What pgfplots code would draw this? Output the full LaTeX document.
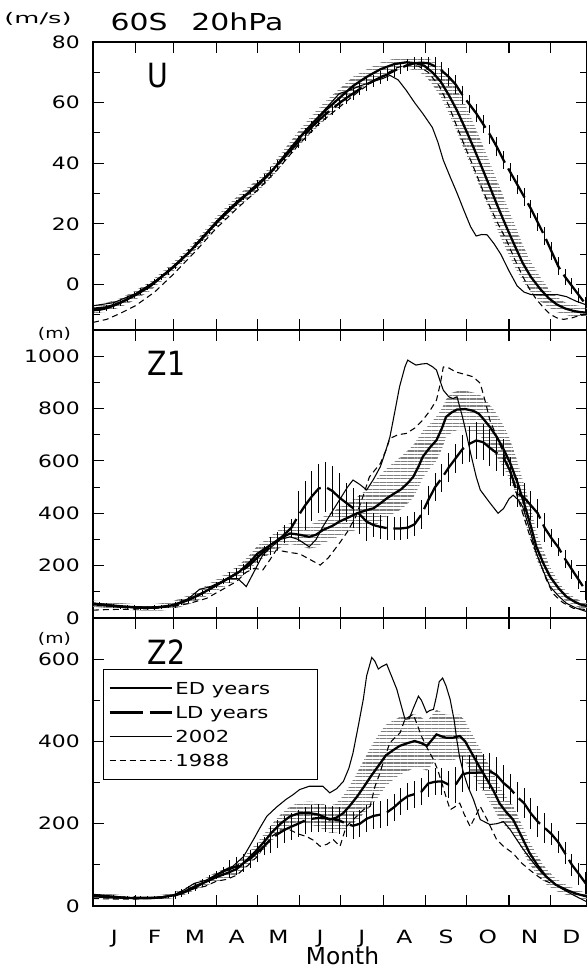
\documentclass[border=0pt]{standalone}
\usepackage{pgfplots}
\pgfplotsset{compat=1.18}
\usepackage{pgfplotstable}
\usepgfplotslibrary{fillbetween}
\usetikzlibrary{patterns.meta}
\usepackage{graphicx}
\usepackage{fontspec}
\setmainfont{DejaVu Sans}[FakeStretch=1.28]
\newfontfamily\plainfont{DejaVu Sans}

\newcommand\tickfont{\fontsize{12.8pt}{14pt}\selectfont}
\newcommand\legfont{\fontsize{12.4pt}{14pt}\selectfont}
\newcommand\unitfont{\fontsize{11pt}{13pt}\selectfont}
\newcommand\titlefont{\fontsize{17.5pt}{20pt}\selectfont}
\newcommand\monfont{\fontsize{13.7pt}{16pt}\selectfont}
\newcommand\panelfont{\plainfont\fontsize{25pt}{28pt}\selectfont}
\newcommand\xlabfont{\plainfont\fontsize{17.5pt}{20pt}\selectfont}

% ---------------- U panel ----------------
\pgfplotstableread{
d v lo hi
0 -8.0 -9.5 -6.5
10 -7.5 -9.0 -6.0
20 -6.0 -7.5 -4.5
31 -3.5 -5.0 -2.0
42 -0.5 -2.0 1.0
50 2.5 1.0 4.0
59 6.0 4.5 7.5
70 10.5 9.0 12.0
80 15.5 14.0 17.0
90 20.5 18.7 22.3
100 25.0 23.2 26.8
110 29.0 27.0 31.0
120 32.5 30.5 34.5
130 37.0 35.0 39.0
140 42.5 40.3 44.7
150 48.0 45.5 50.5
160 53.0 50.2 55.8
170 57.5 54.5 60.5
180 61.5 58.5 64.5
190 65.5 62.5 68.5
200 68.5 66.0 71.0
210 71.0 68.8 73.2
220 72.7 70.7 74.5
229 73.3 71.3 75.0
236 73.0 70.5 75.0
242 72.2 69.2 74.8
248 70.0 66.0 74.0
254 67.0 62.0 72.0
260 62.5 56.5 68.5
266 57.4 50.4 64.4
272 51.5 43.5 59.5
278 45.3 37.3 53.3
284 38.8 30.8 46.8
290 32.2 24.2 40.2
296 25.5 17.5 33.5
302 19.1 11.6 26.6
308 13.0 6.0 20.0
314 7.1 1.1 13.1
320 2.5 -2.5 7.5
327 -1.6 -5.6 2.4
333 -4.5 -7.5 -1.5
339 -6.6 -9.1 -4.1
345 -7.9 -9.9 -5.9
351 -8.7 -10.7 -6.7
356 -9.1 -11.1 -7.1
361 -9.3 -11.3 -7.3
}\EDU

\pgfplotstableread{
d v e
0 -8.5 1
5 -8.3 1
10 -7.8 1
15 -7.0 1
20 -6.0 1
25 -4.8 1
30 -3.6 1
35 -2.3 1
40 -0.9 1
45 0.8 1
50 2.5 1
55 4.3 1
60 6.2 1
65 8.4 1
70 10.6 1
75 13.0 1
80 15.3 1
85 17.8 1
90 20.3 1
95 22.7 1
100 25.0 1
105 27.0 1
110 29.0 1
115 31.0 1
120 33.0 1.5
125 35.0 1.5
130 37.2 1.5
135 39.5 1.5
140 42.0 1.5
145 44.5 1.5
150 47.0 2
155 49.5 2
160 52.0 2
165 54.2 2
170 56.2 2
175 58.0 2
180 59.8 2
185 61.5 2
190 63.0 2
195 64.5 2
200 66.0 2
205 67.2 2
210 68.3 2
215 69.3 2
220 70.5 2
225 71.5 2
230 72.4 2
235 73.0 2
240 73.2 2
245 73.0 2
250 72.0 3
255 70.5 3
260 68.5 3
265 66.0 3
270 62.5 3
275 59.5 3
280 56.5 3
285 53.0 3
290 49.5 3
295 45.5 3
300 41.0 3
305 37.0 3
310 33.0 3
315 29.0 3
320 25.0 3
325 20.5 3
330 16.0 3
335 11.0 3
340 6.0 3
345 2.5 2.5
350 -0.5 2.5
355 -3.5 2.5
360 -6.5 2.5
}\LDU

\pgfplotstableread{
d v
0 -7.0
15 -6.0
31 -3.0
45 1.0
59 6.0
75 13.0
90 20.0
105 26.5
120 32.5
135 39.5
150 47.5
160 53.0
168 57.0
175 60.5
180 63.0
187 64.0
195 65.5
205 67.0
212 68.0
217 69.0
223 67.5
229 64.0
235 60.0
241 56.4
248 51.8
252 47.0
256 41.0
261 35.5
266 30.2
271 24.5
276 19.0
280 16.0
284 16.5
288 16.4
293 13.5
298 10.0
304 4.5
310 -0.5
315 -2.5
320 -3.3
330 -3.4
339 -3.3
346 -4.0
353 -5.5
361 -6.8
}\AU

\pgfplotstableread{
d v
0 -12.5
10 -11.5
20 -9.5
31 -7.0
45 -2.5
59 3.5
75 11.0
90 18.5
105 25.0
120 31.0
135 38.0
150 46.0
165 53.0
180 58.5
195 64.0
210 68.5
222 71.5
230 72.5
238 72.0
245 70.0
253 65.5
260 59.0
266 52.0
272 45.3
278 38.8
284 32.0
290 25.7
296 20.0
302 14.8
308 8.5
314 2.7
319 -1.5
324 -4.9
329 -7.5
334 -9.8
339 -11.0
344 -11.5
350 -11.0
355 -10.3
361 -9.8
}\BU

% ---------------- Z1 panel ----------------
\pgfplotstableread{
d v lo hi
0 55 43 67
10 50 38 62
20 45 33 57
31 41 29 53
41 40 28 52
50 42 28 56
59 50 35 65
70 70 52 88
80 95 75 115
90 125 103 147
100 155 131 179
107 177 151 203
115 215 187 243
120 245 215 275
130 280 247 313
137 305 269 341
144 323 283 363
151 318 276 360
158 310 265 355
163 318 270 366
168 336 286 386
175 352 300 404
180 368 313 423
187 385 327 443
193 400 338 462
200 412 344 490
205 419 349 519
210 438 368 548
215 458 386 573
220 475 400 595
225 491 414 616
230 515 437 640
234 539 460 660
238 580 500 690
241 616 536 715
246 650 570 740
251 679 600 770
255 725 647 800
258 768 690 835
262 785 707 860
266 796 718 866
272 798 718 868
278 791 711 861
282 780 700 855
285 762 682 842
290 730 650 815
295 692 615 780
300 645 575 735
305 590 525 680
310 520 458 600
315 438 378 510
320 350 295 420
324 272 225 330
329 210 170 260
334 158 125 195
340 115 90 140
346 81 63 100
352 62 47 77
356 52 38 66
361 46 32 60
}\EDA

\pgfplotstableread{
d v e
0 55 8
5 52 8
10 49 8
15 46 8
20 43 8
25 41 8
30 40 8
35 39 8
40 39 8
45 40 8
50 42 8
55 46 8
60 51 12
65 60 12
70 70 12
75 82 12
80 95 12
85 110 12
90 125 12
95 140 12
100 155 20
105 170 20
110 185 20
115 205 20
120 230 20
125 255 20
130 275 35
135 295 35
140 320 35
145 345 35
150 390 95
155 430 95
160 465 95
165 495 95
170 500 95
175 485 95
180 460 95
185 440 75
190 420 75
195 395 75
200 368 75
205 355 45
210 348 45
215 343 45
220 342 45
225 342 45
230 345 45
235 358 45
240 395 55
245 450 55
250 500 55
255 535 55
260 575 55
265 610 55
270 645 55
275 665 70
280 678 70
285 672 70
290 650 70
295 630 70
300 612 70
305 560 55
310 478 55
315 460 55
320 430 55
325 400 55
330 345 55
335 305 35
340 270 35
345 225 35
350 185 35
355 145 35
360 105 35
}\LDA

\pgfplotstableread{
d v
0 50
10 46
20 42
31 38
45 38
59 48
70 75
78 110
85 118
92 135
100 150
106 150
112 120
117 170
124 240
130 270
137 300
144 310
150 300
158 272
163 300
168 349
174 400
180 450
186 500
190 527
195 510
200 489
205 530
210 578
214 640
217 692
221 800
224 883
228 960
230 985
233 975
236 966
240 970
244 972
248 960
251 947
254 900
256 870
260 845
263 838
266 845
270 768
273 700
276 628
280 540
283 489
290 440
296 400
300 418
304 455
307 469
311 450
314 425
319 340
324 247
329 180
334 120
340 85
346 56
353 38
361 24
}\AA

\pgfplotstableread{
d v
0 30
10 32
20 33
31 34
45 36
59 45
70 55
83 75
95 110
105 140
112 175
118 190
124 183
129 220
134 260
139 255
144 250
151 245
158 225
166 202
172 230
180 285
186 330
192 387
197 460
202 539
206 565
210 590
214 640
217 686
223 700
229 705
235 725
241 756
246 790
251 832
254 900
256 959
260 955
265 940
272 930
278 921
283 896
287 820
290 756
296 680
302 603
308 500
314 400
320 300
327 209
331 150
336 94
343 60
351 37
361 32
}\BA

% ---------------- Z2 panel ----------------
\pgfplotstableread{
d v lo hi
0 27 21 33
10 24 18 30
20 21 15 27
31 19 13 25
42 19 13 25
50 21 15 27
59 26 19 33
67 35 27 43
74 47 38 56
82 58 48 68
90 70 58 82
98 80 67 93
105 90 76 104
112 110 95 125
120 137 120 154
126 160 141 179
131 180 160 200
137 200 178 222
144 218 194 242
151 226 200 252
158 226 198 254
165 222 192 252
173 210 178 242
178 215 179 251
183 226 184 268
188 245 195 295
193 266 208 324
198 290 225 355
203 315 243 387
208 338 263 413
214 366 291 441
219 378 306 450
224 389 319 459
230 396 328 464
235 401 336 466
240 396 334 458
244 389 329 449
248 405 345 465
251 417 357 477
255 412 354 470
258 409 353 465
263 409 354 464
268 413 361 465
272 400 350 450
278 364 316 412
283 335 289 381
288 307 263 351
293 278 236 320
297 250 210 290
302 228 191 265
307 210 176 244
313 170 140 200
319 129 102 156
325 98 75 121
331 72 53 91
338 52 37 67
346 39 27 51
353 30 20 40
361 23 15 31
}\EDB

\pgfplotstableread{
d v e
0 25 4
5 24 4
10 23 4
15 22 4
20 21 4
25 20 4
30 20 4
35 20 4
40 20 4
45 20 4
50 21 4
55 23 4
60 26 10
65 31 10
70 38 10
75 46 10
80 55 10
85 65 10
90 75 10
95 84 10
100 90 22
105 97 22
110 105 22
115 115 22
120 130 22
125 145 22
130 162 33
135 175 33
140 185 33
145 193 33
150 200 33
155 208 33
160 212 33
165 214 33
170 213 33
175 211 33
180 208 33
185 200 33
190 195 33
195 200 33
200 212 33
205 219 33
210 222 33
215 228 33
220 240 33
225 255 33
230 267 33
235 272 33
240 278 33
245 298 33
250 302 33
255 303 33
260 295 33
265 295 44
270 320 44
275 324 44
280 324 44
285 325 44
290 328 44
295 318 44
300 299 44
305 285 37
310 265 37
315 250 37
320 225 37
325 205 37
330 190 37
335 175 27
340 155 27
345 128 27
350 100 27
355 78 27
360 55 27
}\LDB

\pgfplotstableread{
d v
0 22
15 20
31 18
45 20
59 27
67 40
74 55
82 62
90 75
96 88
102 96
110 120
117 160
122 190
127 218
134 240
141 259
146 270
151 283
158 291
163 291
168 291
173 275
178 285
183 303
187 335
190 372
194 440
197.5 502
200 560
203.7 604
206 595
208.5 576
211 582
214.6 588
218 560
222 527
225 490
228 454
231 455
234 480
237.8 510
240 500
243.8 470
246 475
248.8 478
251 510
253 545
255.5 554
258 535
261 502
264 450
265.8 405
268 360
270.7 324
274 290
278 259
283 210
290 198
295 200
300 205
305 185
309.7 161
315 135
322 104
328 80
334 63
341 45
348.6 31
355 20
361 10
}\AB

\pgfplotstableread{
d v
0 18
15 17
31 17
45 19
59 25
67 35
74 42
82 48
90 60
98 65
105 75
112 95
120 120
126 150
131 170
137 185
144 185
150 175
156 169
161 160
166 145
171 150
175.7 161
180.5 145
185 193
192.7 218
198 235
202.5 242
206 290
209.8 324
213 360
217 397
224.4 421
228 454
231 460
234 466
237 440
240 413
244 385
248.8 356
252 330
254.9 299
258 265
261 234
264 240
268 250
271 225
275.6 193
279 215
283 242
288 210
295 161
300 145
307 128
313 105
319 88
324 75
329 63
335 55
341 47
350 33
361 23
}\BB

\pgfplotsset{
  panel/.style={
    scale only axis, width=370.5pt, height=216pt,
    xmin=0, xmax=361,
    axis line style={line width=0.9pt},
    every tick/.append style={black, line width=0.8pt},
    major tick length=8.5pt, minor tick length=5.5pt, tick align=inside,
    xtick={0,31,59,90,120,151,181,212,243,273,304,334},
    xticklabels={},
    yticklabel={\tickfont\pgfmathprintnumber[assume math mode=true,1000 sep={}]{\tick}},
    yticklabel style={inner sep=0pt, xshift=-9.75pt},
    clip=false,
  },
  edl/.style={black, line width=1.7pt},
  ldl/.style={black, line width=1.7pt, dash pattern=on 25pt off 5pt},
  y02/.style={black, line width=0.8pt},
  y88/.style={black, line width=0.8pt, dash pattern=on 4.5pt off 3pt},
  bandfill/.style={draw=none, pattern={Lines[angle=0,distance=2.6pt,line width=0.9pt]}, pattern color=gray},
  lderr/.style={error bars/y dir=both, error bars/y explicit, error bars/error mark=none,
     error bars/error bar style={solid, black, line width=0.75pt}},
}

\begin{document}
\begin{tikzpicture}

% ===== U =====
\begin{axis}[panel, at={(69.75pt,480.75pt)}, anchor=south west,
  ymin=-15, ymax=80, ytick={0,20,40,60,80}, minor ytick={-10,10,30,50,70}]
  \addplot[draw=none, name path=uhi, forget plot] table[x=d,y=hi]{\EDU};
  \addplot[draw=none, name path=ulo, forget plot] table[x=d,y=lo]{\EDU};
  \addplot[bandfill, forget plot] fill between[of=uhi and ulo];
  \addplot[y88, forget plot] table[x=d,y=v]{\BU};
  \addplot[y02, forget plot] table[x=d,y=v]{\AU};
  \addplot[forget plot, ldl, lderr] table[x=d,y=v,y error=e]{\LDU};
  \addplot[edl, forget plot] table[x=d,y=v]{\EDU};
  \node[font=\panelfont, anchor=west] at (rel axis cs:0.1012,0.882) {\scalebox{0.85}[1]{U}};
  \node[font=\titlefont, anchor=center, inner sep=0pt] at (rel axis cs:0.2105,1.0712) {60S\hspace{18pt}20hPa};
  \node[font=\unitfont, anchor=center, inner sep=0pt] at (rel axis cs:-0.1113,1.0816) {\scalebox{1.37}[1]{(m/s)}};
\end{axis}

% ===== Z1 =====
\begin{axis}[panel, at={(69.75pt,264.75pt)}, anchor=south west,
  ymin=0, ymax=1100, ytick={0,200,400,600,800,1000}, minor ytick={100,300,500,700,900}]
  \addplot[draw=none, name path=ahi, forget plot] table[x=d,y=hi]{\EDA};
  \addplot[draw=none, name path=alo, forget plot] table[x=d,y=lo]{\EDA};
  \addplot[bandfill, forget plot] fill between[of=ahi and alo];
  \addplot[y88, forget plot] table[x=d,y=v]{\BA};
  \addplot[y02, forget plot] table[x=d,y=v]{\AA};
  \addplot[forget plot, ldl, lderr] table[x=d,y=v,y error=e]{\LDA};
  \addplot[edl, forget plot] table[x=d,y=v]{\EDA};
  \node[font=\panelfont, anchor=west] at (rel axis cs:0.1012,0.885) {\scalebox{0.85}[1]{Z1}};
  \node[font=\unitfont, anchor=center, inner sep=0pt] at (rel axis cs:-0.078,0.9878) {(m)};
\end{axis}

% ===== Z2 =====
\begin{axis}[panel, at={(69.75pt,48.75pt)}, anchor=south west,
  ymin=0, ymax=700, ytick={0,200,400,600}, minor ytick={100,300,500},
  extra x ticks={15.5,45,74.5,105,135.5,166,196.5,227.5,258,288.5,319,349.5},
  extra x tick labels={J,F,M,A,M,J,J,A,S,O,N,D},
  extra x tick style={major tick length=0pt, xticklabel style={font=\monfont, inner sep=0pt, yshift=-18pt}},
  xlabel={Month},
  xlabel style={at={(axis description cs:0.505,0)}, anchor=north, inner sep=0pt, yshift=-30.75pt, font=\xlabfont},
  legend image code/.code={\draw[#1] (0pt,0pt) -- (46.5pt,0pt);},
  legend cell align=left,
  legend style={at={(rel axis cs:0.0202,0.8229)}, anchor=north west, draw=black, line width=0.8pt,
     font=\legfont, inner xsep=3.75pt, inner ysep=5pt, row sep=0pt,
     nodes={text height=10.6pt, text depth=1.7pt, inner ysep=2.9pt}},
  ]
  \addplot[draw=none, name path=bhi, forget plot] table[x=d,y=hi]{\EDB};
  \addplot[draw=none, name path=blo, forget plot] table[x=d,y=lo]{\EDB};
  \addplot[bandfill, forget plot] fill between[of=bhi and blo];
  \addplot[y88, forget plot] table[x=d,y=v]{\BB};
  \addplot[y02, forget plot] table[x=d,y=v]{\AB};
  \addplot[forget plot, ldl, lderr] table[x=d,y=v,y error=e]{\LDB};
  \addplot[edl, forget plot] table[x=d,y=v]{\EDB};
  \addlegendimage{black, solid, line width=1.7pt}
  \addlegendentry{ED years\hspace*{30pt}}
  \addlegendimage{black, line width=1.7pt, dash pattern=on 25pt off 5pt}
  \addlegendentry{LD years}
  \addlegendimage{black, solid, line width=0.8pt}
  \addlegendentry{2002}
  \addlegendimage{black, line width=0.8pt, dash pattern=on 4.5pt off 3pt}
  \addlegendentry{1988}
  \node[font=\panelfont, anchor=west] at (rel axis cs:0.1012,0.880) {\scalebox{0.85}[1]{Z2}};
  \node[font=\unitfont, anchor=center, inner sep=0pt] at (rel axis cs:-0.078,0.9288) {(m)};
\end{axis}

\pgfresetboundingbox
\useasboundingbox (0,0) rectangle (439.5pt,728.25pt);
\end{tikzpicture}
\end{document}
